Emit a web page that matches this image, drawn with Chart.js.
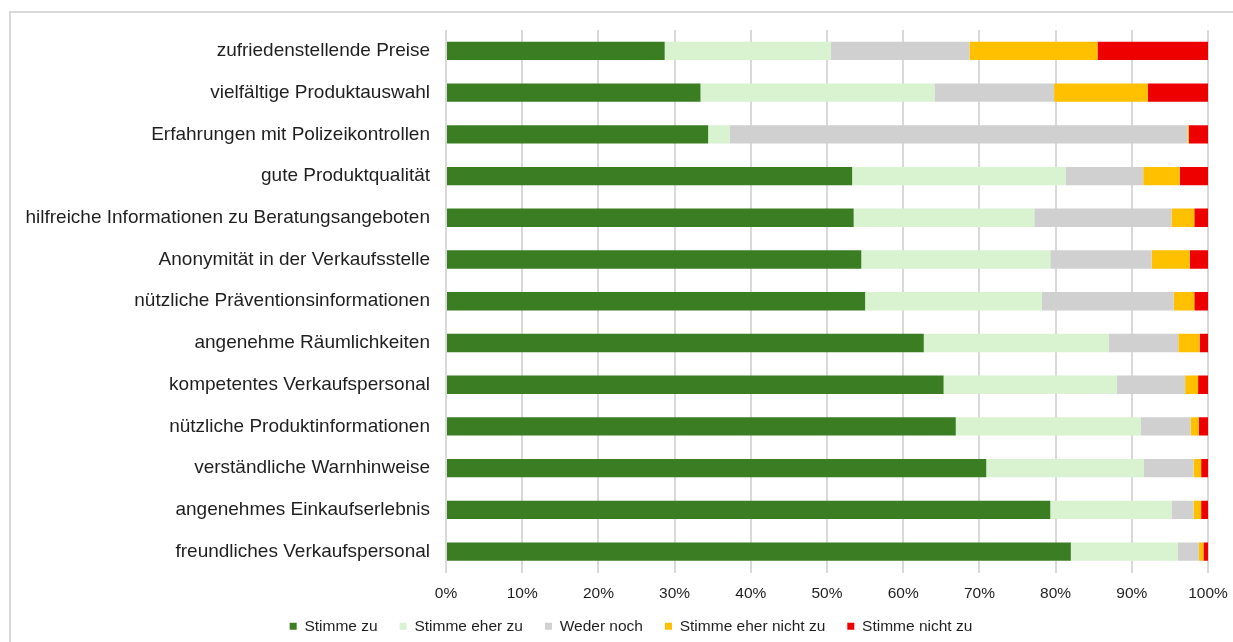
<!DOCTYPE html>
<html lang="de">
<head>
<meta charset="utf-8">
<title>Zufriedenheit</title>
<script src="https://cdn.jsdelivr.net/npm/chart.js@4"></script>
<style>
  html, body { margin: 0; padding: 0; background: #fff; overflow: hidden; }
  #frame {
    position: absolute; left: 9px; top: 11px; width: 1300px; height: 700px;
    border: 2px solid #d9d9d9; box-sizing: border-box;
  }
  #wrap { position: absolute; left: 0; top: 0; width: 1233px; height: 642px; }
</style>
</head>
<body>
<div id="frame"></div>
<div id="wrap"><canvas id="chart"></canvas></div>
<script>
const categories = [
  "zufriedenstellende Preise",
  "vielfältige Produktauswahl",
  "Erfahrungen mit Polizeikontrollen",
  "gute Produktqualität",
  "hilfreiche Informationen zu Beratungsangeboten",
  "Anonymität in der Verkaufsstelle",
  "nützliche Präventionsinformationen",
  "angenehme Räumlichkeiten",
  "kompetentes Verkaufspersonal",
  "nützliche Produktinformationen",
  "verständliche Warnhinweise",
  "angenehmes Einkaufserlebnis",
  "freundliches Verkaufspersonal",
];

const seriesNames = ["Stimme zu", "Stimme eher zu", "Weder noch", "Stimme eher nicht zu", "Stimme nicht zu"];
const seriesColors = ["#3b7d23", "#d9f2d0", "#d0d0d0", "#ffc000", "#ee0000"];

// percent values
const stimmeZu =        [28.7, 33.4, 34.4, 53.3, 53.5, 54.5, 55.0, 62.7, 65.3, 66.9, 70.9, 79.3, 82.0];
const stimmeEherZu =    [21.8, 30.7,  2.8, 28.0, 23.7, 24.8, 23.2, 24.3, 22.7, 24.3, 20.7, 15.9, 14.0];
const wederNoch =       [18.2, 15.7, 60.1, 10.2, 18.0, 13.3, 17.3,  9.1,  9.0,  6.5,  6.5,  2.9,  2.8];
const stimmeEherNicht = [16.8, 12.3,  0.2,  4.8,  3.0,  5.0,  2.7,  2.8,  1.7,  1.1,  1.0,  1.0,  0.6];
const stimmeNicht =     [14.5,  7.9,  2.5,  3.7,  1.8,  2.4,  1.8,  1.1,  1.3,  1.2,  0.9,  0.9,  0.6];

const seriesValues = [stimmeZu, stimmeEherZu, wederNoch, stimmeEherNicht, stimmeNicht];
const xTickStep = 10;

const textColor = "#1f1f1f";
const gridColor = "#d9d9d9";
const fontFamily = "'Liberation Sans', Arial, sans-serif";

const datasets = seriesNames.map((name, i) => ({
  label: name,
  data: seriesValues[i],
  backgroundColor: seriesColors[i],
  borderWidth: 0,
  barPercentage: 0.44,
  categoryPercentage: 1,
}));

// scales clip their labels to their own box; widen those boxes after layout
const unclipLabels = {
  id: "unclipLabels",
  afterLayout(chart) {
    chart.scales.y.left = 0;
    chart.scales.x.bottom = chart.height;
  },
};

new Chart(document.getElementById("chart"), {
  type: "bar",
  data: { labels: categories, datasets },
  plugins: [unclipLabels],
  options: {
    indexAxis: "y",
    responsive: true,
    maintainAspectRatio: false,
    animation: false,
    layout: { padding: { left: 54, right: 25, top: 30, bottom: -2 } },
    plugins: {
      tooltip: { enabled: false },
      legend: {
        position: "bottom",
        labels: {
          color: textColor,
          boxWidth: 7,
          boxHeight: 7,
          padding: 22,
          font: { family: fontFamily, size: 15.5 },
        },
      },
    },
    scales: {
      x: {
        stacked: true,
        min: 0,
        max: 100,
        afterFit: (scale) => {
          scale.height = 24;
          scale.paddingLeft = 0;
          scale.paddingRight = 0;
        },
        ticks: {
          stepSize: xTickStep,
          padding: 12,
          color: textColor,
          font: { family: fontFamily, size: 15.5 },
          callback: (v) => v + "%",
        },
        grid: { color: gridColor, lineWidth: 2, drawTicks: false },
        border: { display: false },
      },
      y: {
        stacked: true,
        afterFit: (scale) => { scale.width = 392; },
        ticks: {
          padding: 16,
          color: textColor,
          autoSkip: false,
          font: { family: fontFamily, size: 19 },
        },
        grid: { display: false, drawTicks: false },
        border: { display: false },
      },
    },
  },
});
</script>
</body>
</html>
